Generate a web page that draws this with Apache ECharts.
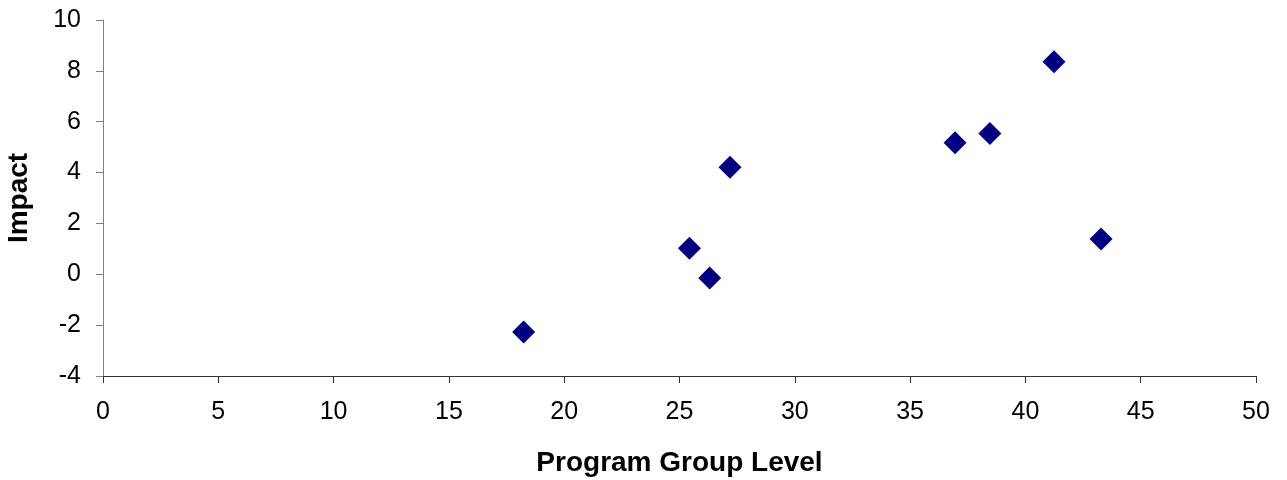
<!DOCTYPE html>
<html><head><meta charset="utf-8">
<script src="https://cdn.jsdelivr.net/npm/echarts@6/dist/echarts.min.js"></script>
<style>html,body{margin:0;padding:0;background:#fff}#c{width:1287px;height:480px}</style>
</head><body><div id="c"></div>
<script>
const xValues = [18.24, 25.43, 26.31, 27.19, 36.95, 38.46, 41.24, 43.28];
const yValues = [-2.27, 1.02, -0.15, 4.21, 5.17, 5.54, 8.36, 1.39];
const xTitle = 'Program Group Level';
const yTitle = 'Impact';

const chart = echarts.init(document.getElementById('c'));
const font = '"Liberation Sans", Arial, sans-serif';
chart.setOption({
  animation: false,
  backgroundColor: '#fff',
  grid: {left: 103, right: 31, top: 20, bottom: 104, outerBoundsMode: 'none', containLabel: false},
  xAxis: {
    type: 'value', min: 0, max: 50, interval: 5,
    name: xTitle, nameLocation: 'middle', nameGap: 73,
    nameTextStyle: {fontFamily: font, fontSize: 28, fontWeight: 'bold', color: '#000'},
    axisLine: {onZero: false, lineStyle: {color: '#333', width: 1}},
    axisTick: {show: true, length: 7, lineStyle: {color: '#333'}},
    axisLabel: {fontFamily: font, fontSize: 25, color: '#000', margin: 24},
    splitLine: {show: false}
  },
  yAxis: {
    type: 'value', min: -4, max: 10, interval: 2,
    name: yTitle, nameLocation: 'middle', nameGap: 70, nameRotate: 90,
    nameTextStyle: {fontFamily: font, fontSize: 28, fontWeight: 'bold', color: '#000'},
    axisLine: {show: true, lineStyle: {color: '#808080', width: 1}},
    axisTick: {show: true, length: 7, lineStyle: {color: '#808080'}},
    axisLabel: {fontFamily: font, fontSize: 25, color: '#000', margin: 22},
    splitLine: {show: false}
  },
  series: [{
    type: 'scatter',
    symbol: 'diamond',
    symbolSize: 23,
    itemStyle: {color: '#000080', opacity: 1},
    data: xValues.map((x, i) => [x, yValues[i]])
  }]
});
</script></body></html>
